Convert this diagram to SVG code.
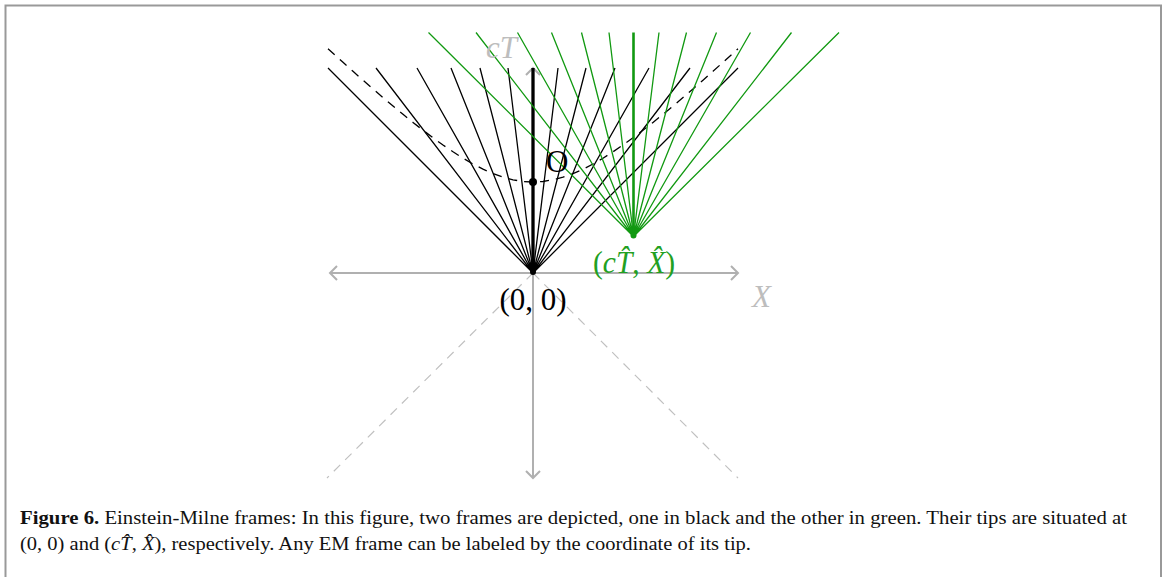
<svg xmlns="http://www.w3.org/2000/svg" width="1168" height="577" viewBox="0 0 1168 577">
<style>
.ax{stroke:#b0b0b0;stroke-width:2;fill:none}
.gd{stroke:#c0c0c0;stroke-width:1.2;fill:none;stroke-dasharray:9 7}
.bl{stroke:#000;stroke-width:1.3;fill:none}
.gl{stroke:#119911;stroke-width:1.3;fill:none}
.big{font-family:"Liberation Serif",serif;font-size:31px}
.cap{font-family:"Liberation Serif",serif;font-size:18px;fill:#111}
</style>
<rect x="0" y="0" width="1168" height="577" fill="#fff"/>
<rect x="5.5" y="5.5" width="1155.5" height="600" fill="none" stroke="#999" stroke-width="2"/>

<g id="axes">
  <path class="ax" d="M330 273H738M533 478V68"/>
  <path class="ax" d="M337 266L330 273L337 280M731 266L738 273L731 280M526 471L533 478L540 471M526 75L533 68L540 75"/>
  <path class="gd" d="M533 273L327 478M533 273L738 478"/>
</g>

<g id="frame-black">
  <path class="bl" d="M533 273L328 68M533 273L376 68M533 273L417 68M533 273L451 68M533 273L480 68M533 273L508 68M533 273L558 68M533 273L586 68M533 273L615 68M533 273L649 68M533 273L690 68M533 273L738 68"/>
  <path class="bl" stroke-dasharray="9 7" d="M328 48.7L343 62.3L353 71.3L363 80.2L373 88.9L383 97.6L393 106L403 114.3L413 122.4L423 130.2L433 137.8L443 145L453 151.8L463 158.2L473 164L483 169.2L493 173.6L503 177.2L513 179.8L523 181.5L533 182L543 181.5L553 179.8L563 177.2L573 173.6L583 169.2L593 164L603 158.2L613 151.8L623 145L633 137.8L643 130.2L653 122.4L663 114.3L673 106L683 97.6L693 88.9L703 80.2L713 71.3L723 62.3L738 48.7"/>
  <path stroke="#000" stroke-width="3.3" d="M533 273V68"/>
  <circle cx="533" cy="182" r="4"/>
  <circle cx="533" cy="272" r="3"/>
</g>

<g id="frame-green">
  <path class="gl" d="M633.5 236.5L428.5 32.5M633.5 236.5L476 32.5M633.5 236.5L517.5 32.5M633.5 236.5L551.5 32.5M633.5 236.5L581.5 32.5M633.5 236.5L609 32.5M633.5 236.5L659 32.5M633.5 236.5L686.5 32.5M633.5 236.5L716.5 32.5M633.5 236.5L750.5 32.5M633.5 236.5L791.5 32.5M633.5 236.5L839 32.5"/>
  <path stroke="#119911" stroke-width="2.6" d="M633.5 236.5V32.5"/>
  <circle cx="633.5" cy="235.5" r="3" fill="#119911"/>
</g>

<g id="labels">
  <text class="big" x="486" y="58" fill="#bdbdbd" font-style="italic">cT</text>
  <text class="big" x="752" y="307" fill="#bdbdbd" font-style="italic">X</text>
  <text class="big" x="533" y="310" text-anchor="middle">(0, 0)</text>
  <text class="big" x="546" y="172">O</text>
  <text class="big" x="593" y="273" font-size="27" fill="#22a022" textLength="82" lengthAdjust="spacingAndGlyphs">(<tspan font-style="italic">c</tspan><tspan font-style="italic">T̂</tspan>, <tspan font-style="italic">X̂</tspan>)</text>
</g>

<g id="caption">
  <text class="cap" x="20" y="524" textLength="1107" lengthAdjust="spacingAndGlyphs"><tspan font-weight="bold">Figure 6.</tspan> Einstein-Milne frames: In this figure, two frames are depicted, one in black and the other in green. Their tips are situated at</text>
  <text class="cap" x="20" y="550" textLength="731" lengthAdjust="spacingAndGlyphs">(0, 0) and (<tspan font-style="italic">c</tspan><tspan font-style="italic">T̂</tspan>, <tspan font-style="italic">X̂</tspan>), respectively. Any EM frame can be labeled by the coordinate of its tip.</text>
</g>
</svg>
